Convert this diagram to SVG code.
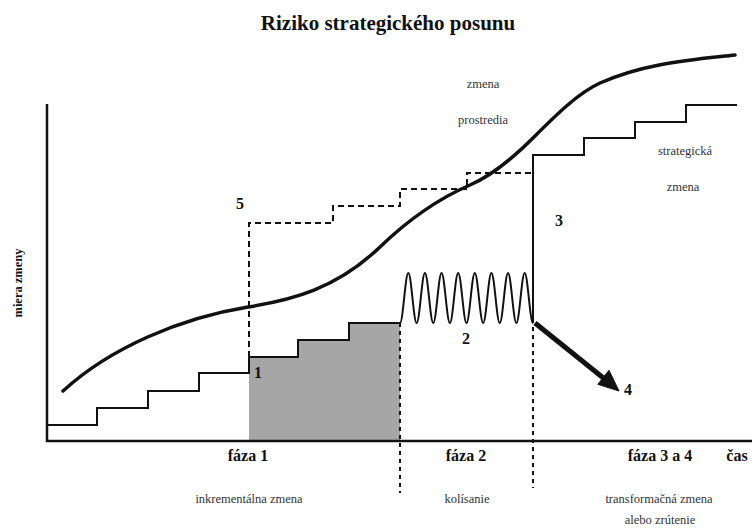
<svg xmlns="http://www.w3.org/2000/svg" width="755" height="528" viewBox="0 0 755 528">
<style>
.t{font-family:"Liberation Serif","Times New Roman",serif;fill:#111;}
.b{font-weight:bold;}
.s{font-size:12.5px;fill:#333;}
.n{font-size:16px;font-weight:bold;}
.ln{fill:none;stroke:#111;stroke-width:2;}
.dash{fill:none;stroke:#111;stroke-width:2;stroke-dasharray:6 4;}
.dot{fill:none;stroke:#111;stroke-width:2;stroke-dasharray:4 4;}
</style>
<rect width="755" height="528" fill="#fff"/>
<text class="t b" x="388" y="30" font-size="21" text-anchor="middle">Riziko strategického posunu</text>
<g id="shaded">
<polygon points="249,357 298,357 298,340 349,340 349,323 400,323 400,441 249,441" fill="#a6a6a6"/>
</g>
<g id="axes">
<path d="M47,104 V441 H752" fill="none" stroke="#111" stroke-width="2.5"/>
<text class="t b" transform="translate(22,283) rotate(-90)" font-size="12.5" text-anchor="middle">miera zmeny</text>
<text class="t b" x="737" y="461" font-size="16" text-anchor="middle">čas</text>
</g>
<g id="connectors">
<path class="ln" d="M47,425 H97 V408 H148 V391 H199 V373 H249 V357 H298 V340 H349 V323 H400"/>
<path class="ln" d="M400,323 C403.03,323 405.28,273 408.31,273 S413.60,323 416.63,323 S421.91,273 424.94,273 S430.22,323 433.25,323 S438.53,273 441.56,273 S446.85,323 449.88,323 S455.16,273 458.19,273 S463.47,323 466.5,323 S471.78,273 474.81,273 S480.10,323 483.13,323 S488.41,273 491.44,273 S496.72,323 499.75,323 S505.03,273 508.06,273 S513.35,323 516.38,323 S521.66,273 524.69,273 S529.97,323 533,323"/>
<path class="ln" d="M533,323 V155 H584 V138 H635 V122 H686 V105 H737"/>
<path class="dash" d="M249,357 V223 H333 V206 H400 V189 H467 V173 H533"/>
<path class="dot" d="M400,323 V493"/>
<path class="dot" d="M533,327 V488"/>
<path d="M63,391 C110,348 180,318 248,307 C292,300 336,289 380,247 C410,218 440,198 470,185 C491,176 512,159 533,138 C555,116 578,93 600,83 C645,63 690,60 735,55" fill="none" stroke="#111" stroke-width="3.5" stroke-linecap="round"/>
<line x1="535" y1="323" x2="604" y2="378.5" stroke="#111" stroke-width="5"/>
<polygon points="619,391 597.8,384.3 609.0,370.3" fill="#111" stroke="#111" stroke-width="1"/>
</g>
<g id="labels">
<text class="t n" x="240" y="209" text-anchor="middle">5</text>
<text class="t n" x="559" y="226" text-anchor="middle">3</text>
<text class="t n" x="258" y="378" text-anchor="middle">1</text>
<text class="t n" x="466" y="344" text-anchor="middle">2</text>
<text class="t n" x="628" y="395" text-anchor="middle">4</text>
<text class="t s" x="483" y="88" text-anchor="middle">zmena</text>
<text class="t s" x="483" y="124" text-anchor="middle">prostredia</text>
<text class="t s" x="685" y="155" text-anchor="middle">strategická</text>
<text class="t s" x="683" y="191" text-anchor="middle">zmena</text>
</g>
<g id="phases">
<text class="t b" x="248" y="461" font-size="16" text-anchor="middle">fáza 1</text>
<text class="t b" x="466" y="461" font-size="16" text-anchor="middle">fáza 2</text>
<text class="t b" x="660" y="461" font-size="16" text-anchor="middle">fáza 3 a 4</text>
<text class="t s" x="249" y="503" text-anchor="middle">inkrementálna zmena</text>
<text class="t s" x="467" y="503" text-anchor="middle">kolísanie</text>
<text class="t s" x="659" y="503" text-anchor="middle">transformačná zmena</text>
<text class="t s" x="660" y="524" text-anchor="middle">alebo zrútenie</text>
</g>
</svg>
